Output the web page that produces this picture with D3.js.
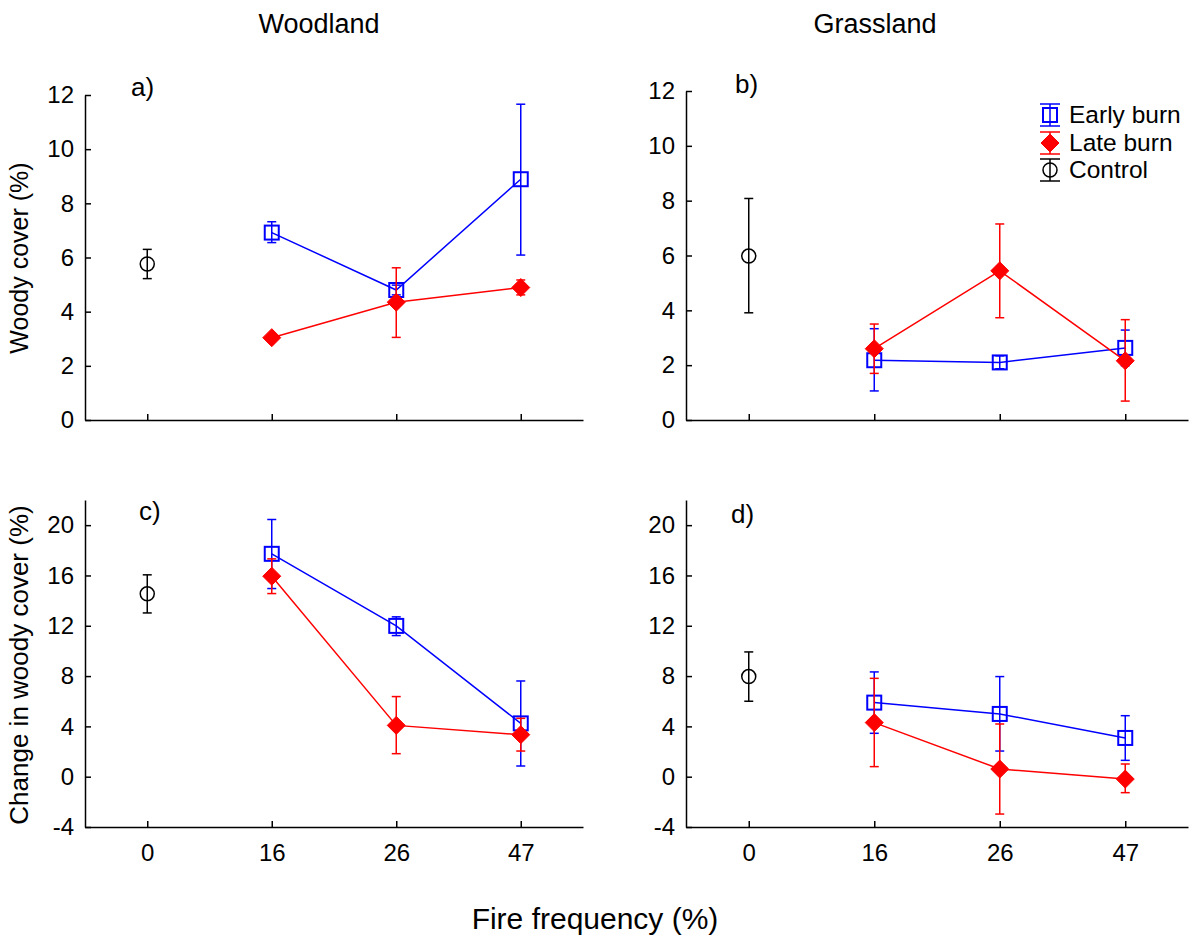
<!DOCTYPE html>
<html>
<head>
<meta charset="utf-8">
<script src="https://cdn.jsdelivr.net/npm/d3@7"></script>
<style>
  body { margin: 0; background: #fff; }
  text { font-family: Arial, "Liberation Sans", sans-serif; fill: #000; }
</style>
</head>
<body>
<svg id="chart" width="1190" height="941"></svg>
<script>
// Fire frequency categories (%)
const categories = ["0", "16", "26", "47"];
const burnCats = ["16", "26", "47"];

// every point is [mean, lower error, upper error]
// a) woody cover, woodland
const aControl = [5.76, 5.22, 6.30];
const aEarly = [[6.92, 6.55, 7.32], [4.80, 4.62, 4.98], [8.89, 6.09, 11.66]];
const aLate = [[3.04, 2.95, 3.13], [4.35, 3.05, 5.62], [4.89, 4.62, 5.17]];
// b) woody cover, grassland
const bControl = [5.98, 3.91, 8.08];
const bEarly = [[2.18, 1.06, 3.33], [2.10, 1.87, 2.34], [2.63, 1.98, 3.28]];
const bLate = [[2.60, 1.70, 3.50], [5.44, 3.73, 7.15], [2.16, 0.69, 3.66]];
// c) change in woody cover, woodland
const cControl = [14.54, 13.02, 16.05];
const cEarly = [[17.72, 14.96, 20.45], [11.99, 11.22, 12.71], [4.24, 0.85, 7.61]];
const cLate = [[15.94, 14.56, 17.32], [4.08, 1.83, 6.37], [3.34, 2.04, 4.64]];
// d) change in woody cover, grassland
const dControl = [7.96, 6.00, 9.92];
const dEarly = [[5.89, 3.45, 8.33], [4.99, 2.04, 7.96], [3.08, 1.30, 4.85]];
const dLate = [[4.30, 0.80, 7.82], [0.61, -2.97, 4.19], [-0.19, -1.27, 1.01]];

const coverTicks = [0, 2, 4, 6, 8, 10, 12];
const changeTicks = [-4, 0, 4, 8, 12, 16, 20];
const seriesNames = ["Early burn", "Late burn", "Control"];

const BLUE = "#0000ff", RED = "#ff0000", BLACK = "#000";

const svg = d3.select("#chart");

const panels = [
  { tag: "a)", control: aControl, early: aEarly, late: aLate, x0: 85, x1: 583, yb: 420, yt: 95,
    domain: [0, 12], ticks: coverTicks, xLabels: false, lx: 131, ly: 96 },
  { tag: "b)", control: bControl, early: bEarly, late: bLate, x0: 686, x1: 1188, yb: 420, yt: 91,
    domain: [0, 12], ticks: coverTicks, xLabels: false, lx: 735, ly: 93 },
  { tag: "c)", control: cControl, early: cEarly, late: cLate, x0: 85, x1: 583, yb: 827, yt: 500,
    domain: [-4, 22], ticks: changeTicks, xLabels: true, lx: 139, ly: 520 },
  { tag: "d)", control: dControl, early: dEarly, late: dLate, x0: 686, x1: 1188, yb: 827, yt: 500,
    domain: [-4, 22], ticks: changeTicks, xLabels: true, lx: 731, ly: 523 }
];

function errBar(g, x, lo, hi, color, cap) {
  g.append("line").attr("x1", x).attr("x2", x).attr("y1", lo).attr("y2", hi)
    .attr("stroke", color).attr("stroke-width", 1.5);
  [lo, hi].forEach(yy => {
    g.append("line").attr("x1", x - cap).attr("x2", x + cap).attr("y1", yy).attr("y2", yy)
      .attr("stroke", color).attr("stroke-width", 1.5);
  });
}

function square(g, x, y) {
  g.append("rect").attr("x", x - 7).attr("y", y - 7).attr("width", 14).attr("height", 14)
    .attr("fill", "none").attr("stroke", BLUE).attr("stroke-width", 2);
}
function diamond(g, x, y) {
  g.append("path").attr("d", `M${x},${y - 9}L${x + 9},${y}L${x},${y + 9}L${x - 9},${y}Z`)
    .attr("fill", RED).attr("stroke", RED).attr("stroke-width", 1);
}
function circle(g, x, y) {
  g.append("circle").attr("cx", x).attr("cy", y).attr("r", 7)
    .attr("fill", "none").attr("stroke", BLACK).attr("stroke-width", 1.5);
}

panels.forEach(p => {
  const x = d3.scalePoint().domain(categories).range([p.x0, p.x1]).padding(0.5);
  const y = d3.scaleLinear().domain(p.domain).range([p.yb, p.yt]);
  const g = svg.append("g");

  const yAxis = g.append("g").attr("transform", `translate(${p.x0},0)`)
    .call(d3.axisLeft(y).tickValues(p.ticks).tickSizeInner(-6).tickSizeOuter(0).tickPadding(11)
      .tickFormat(d => String(d)));
  const xAxis = g.append("g").attr("transform", `translate(0,${p.yb})`)
    .call(d3.axisBottom(x).tickSizeInner(-6).tickSizeOuter(0).tickPadding(17)
      .tickFormat(p.xLabels ? (d => d) : () => ""));
  [yAxis, xAxis].forEach(ax => {
    ax.select(".domain").attr("stroke", BLACK).attr("stroke-width", 1.5);
    ax.selectAll(".tick line").attr("stroke", BLACK).attr("stroke-width", 1.5);
    ax.selectAll(".tick text").attr("font-size", 24).attr("fill", BLACK)
      .attr("font-family", "Arial, 'Liberation Sans', sans-serif");
  });

  g.append("text").attr("x", p.lx).attr("y", p.ly).attr("font-size", 26).text(p.tag);

  const line = d3.line().x((d, i) => x(burnCats[i])).y(d => y(d[0]));

  // control
  errBar(g, x("0"), y(p.control[1]), y(p.control[2]), BLACK, 4.5);
  circle(g, x("0"), y(p.control[0]));

  // early burn
  g.append("path").datum(p.early).attr("d", line).attr("fill", "none")
    .attr("stroke", BLUE).attr("stroke-width", 1.5);
  p.early.forEach((d, i) => errBar(g, x(burnCats[i]), y(d[1]), y(d[2]), BLUE, 4.5));
  p.early.forEach((d, i) => square(g, x(burnCats[i]), y(d[0])));

  // late burn
  g.append("path").datum(p.late).attr("d", line).attr("fill", "none")
    .attr("stroke", RED).attr("stroke-width", 1.5);
  p.late.forEach((d, i) => errBar(g, x(burnCats[i]), y(d[1]), y(d[2]), RED, 4.5));
  p.late.forEach((d, i) => diamond(g, x(burnCats[i]), y(d[0])));
});

// legend (panel b)
const leg = svg.append("g");
const legY = [115, 143, 170];
const legColors = [BLUE, RED, BLACK];
seriesNames.forEach((name, i) => {
  const cx = 1050, cy = legY[i];
  errBar(leg, cx, cy - 11, cy + 11, legColors[i], 10);
  if (i === 0) square(leg, cx, cy);
  else if (i === 1) diamond(leg, cx, cy);
  else circle(leg, cx, cy);
  leg.append("text").attr("x", 1069).attr("y", cy + 8).attr("font-size", 24.5).text(name);
});

// titles and axis labels
svg.append("text").attr("x", 319).attr("y", 33).attr("text-anchor", "middle")
  .attr("font-size", 27).text("Woodland");
svg.append("text").attr("x", 875).attr("y", 33).attr("text-anchor", "middle")
  .attr("font-size", 27).text("Grassland");
svg.append("text").attr("x", 595).attr("y", 929).attr("text-anchor", "middle")
  .attr("font-size", 30).text("Fire frequency (%)");
svg.append("text").attr("transform", "translate(28,258) rotate(-90)").attr("text-anchor", "middle")
  .attr("font-size", 25).text("Woody cover (%)");
svg.append("text").attr("transform", "translate(28,665) rotate(-90)").attr("text-anchor", "middle")
  .attr("font-size", 26).text("Change in woody cover (%)");
</script>
</body>
</html>
